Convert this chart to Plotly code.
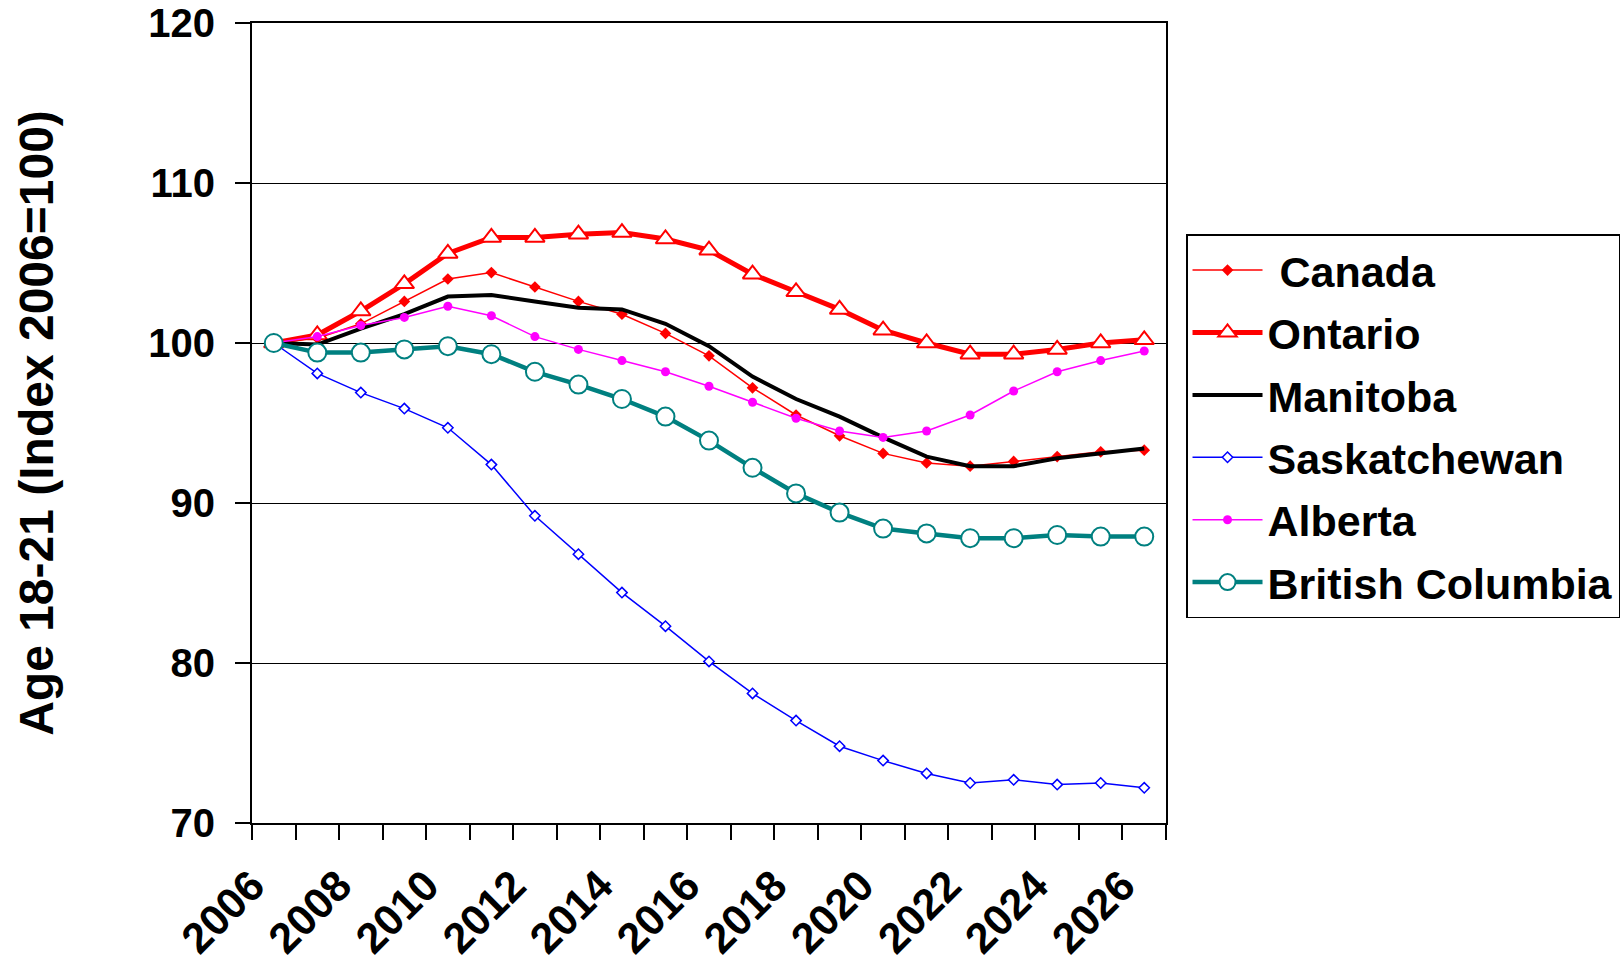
import plotly.graph_objects as go

# Index of the population aged 18-21 (2006 = 100)
years = list(range(2006, 2027))

canada = [100.0, 100.3, 101.2, 102.6, 104.0, 104.4, 103.5, 102.6, 101.8, 100.6, 99.2,
          97.2, 95.5, 94.2, 93.1, 92.5, 92.3, 92.6, 92.9, 93.2, 93.3]
ontario = [100.0, 100.5, 102.0, 103.7, 105.6, 106.6, 106.6, 106.8, 106.9, 106.5, 105.8,
           104.3, 103.2, 102.1, 100.8, 100.0, 99.3, 99.3, 99.6, 100.0, 100.2]
manitoba = [100.0, 99.9, 100.9, 101.8, 102.9, 103.0, 102.6, 102.2, 102.1, 101.2, 99.8,
            97.9, 96.5, 95.4, 94.1, 92.9, 92.3, 92.3, 92.8, 93.1, 93.4]
saskatchewan = [100.0, 98.1, 96.9, 95.9, 94.7, 92.4, 89.2, 86.8, 84.4, 82.3, 80.1,
                78.1, 76.4, 74.8, 73.9, 73.1, 72.5, 72.7, 72.4, 72.5, 72.2]
alberta = [100.0, 100.4, 101.1, 101.6, 102.3, 101.7, 100.4, 99.6, 98.9, 98.2, 97.3,
           96.3, 95.3, 94.5, 94.1, 94.5, 95.5, 97.0, 98.2, 98.9, 99.5]
british_columbia = [100.0, 99.4, 99.4, 99.6, 99.8, 99.3, 98.2, 97.4, 96.5, 95.4, 93.9,
                    92.2, 90.6, 89.4, 88.4, 88.1, 87.8, 87.8, 88.0, 87.9, 87.9]

x_tick_labels = ["2006", "2008", "2010", "2012", "2014", "2016",
                 "2018", "2020", "2022", "2024", "2026"]
y_ticks = [70, 80, 90, 100, 110, 120]

FONT = "Liberation Sans, Arial, sans-serif"

# ticks sit on category boundaries; year labels hang from the left edge of their category
bounds = [y - 0.5 for y in years] + [years[-1] + 0.5]
bound_text = [str(y) if str(y) in x_tick_labels else "" for y in years] + [""]

series = [
    dict(name="\u00a0Canada", y=canada,
         line=dict(color="#FF0000", width=1.5),
         marker=dict(symbol="diamond", size=9, color="#FF0000"), mode="lines+markers"),
    dict(name="Ontario", y=ontario,
         line=dict(color="#FF0000", width=5),
         marker=dict(symbol="triangle-up", size=17, color="white",
                     line=dict(color="#FF0000", width=2)), mode="lines+markers"),
    dict(name="Manitoba", y=manitoba,
         line=dict(color="black", width=4), mode="lines"),
    dict(name="Saskatchewan", y=saskatchewan,
         line=dict(color="#0000FF", width=1.5),
         marker=dict(symbol="diamond", size=8, color="white",
                     line=dict(color="#0000FF", width=1.5)), mode="lines+markers"),
    dict(name="Alberta", y=alberta,
         line=dict(color="#FF00FF", width=1.5),
         marker=dict(symbol="circle", size=9, color="#FF00FF"), mode="lines+markers"),
    dict(name="British Columbia", y=british_columbia,
         line=dict(color="#008080", width=4.5),
         marker=dict(symbol="circle", size=18, color="white",
                     line=dict(color="#008080", width=2)), mode="lines+markers"),
]

fig = go.Figure()
for s in series:
    fig.add_trace(go.Scatter(x=years, legendgroup=s["name"], **s))

fig.update_layout(
    width=1622, height=961,
    margin=dict(l=252, r=456, t=0, b=138),
    paper_bgcolor="white", plot_bgcolor="white",
    font=dict(family=FONT, color="black"),
    showlegend=True,
    legend=dict(
        x=1.0219, y=0.7155, xanchor="left", yanchor="top",
        bgcolor="white", bordercolor="black", borderwidth=1.5,
        font=dict(size=43, weight="bold", family=FONT),
        tracegroupgap=3.5, itemwidth=70,
    ),
    xaxis=dict(
        range=[2005.5, 2026.5], tickmode="array", tickvals=bounds, ticktext=bound_text,
        tickangle=-45, ticks="outside", ticklen=15, tickwidth=1.5, tickcolor="black",
        tickfont=dict(size=43, weight="bold", family=FONT),
        ticklabelstandoff=3, automargin=False,
        showline=True, linecolor="black", linewidth=2, mirror=True,
        showgrid=False, zeroline=False,
    ),
    yaxis=dict(
        domain=[0, 1 - 23 / 823],
        range=[70, 120], tickmode="array", tickvals=y_ticks,
        ticks="outside", ticklen=15, tickwidth=1.5, tickcolor="black",
        tickfont=dict(size=40, weight="bold", family=FONT),
        ticklabelstandoff=12, automargin=False,
        showline=True, linecolor="black", linewidth=2, mirror=True,
        showgrid=True, gridcolor="black", gridwidth=1.2, zeroline=False,
        title=dict(text="Age 18-21 (Index 2006=100)",
                   font=dict(size=48, weight="bold", family=FONT), standoff=79),
    ),
)

fig.write_html("out.html")
